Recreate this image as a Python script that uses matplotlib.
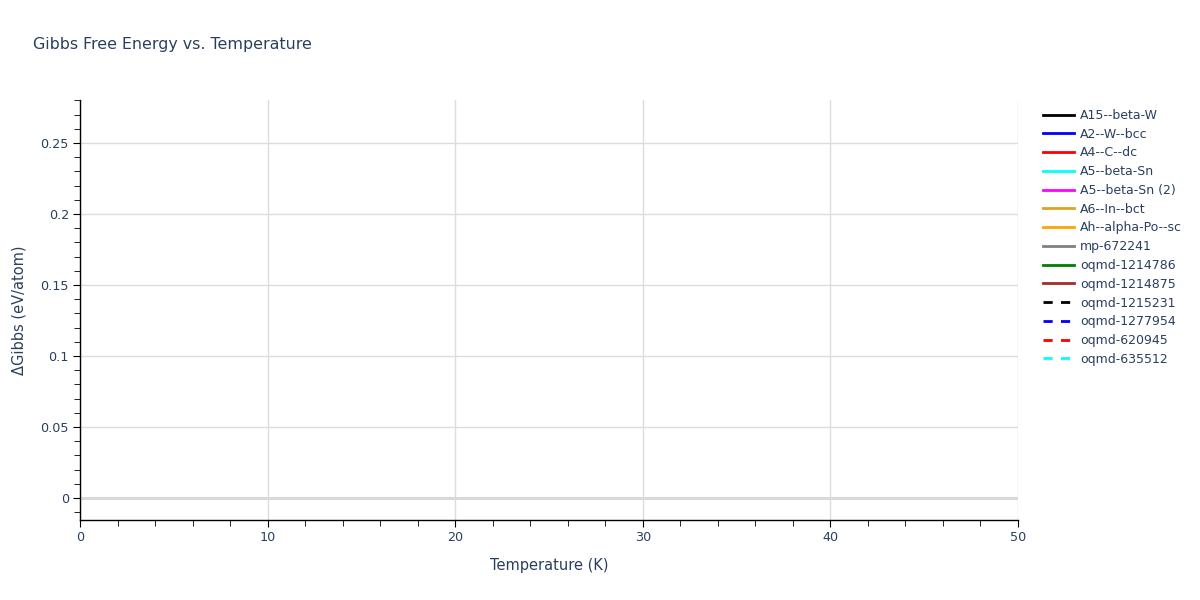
import matplotlib.pyplot as plt
from matplotlib.ticker import MultipleLocator, FuncFormatter

# -----------------------------------------------------------------------------
#         Data (no points fall inside the visible window)
# -----------------------------------------------------------------------------
names = ['A15--beta-W', 'A2--W--bcc', 'A4--C--dc', 'A5--beta-Sn',
         'A5--beta-Sn (2)', 'A6--In--bct', 'Ah--alpha-Po--sc', 'mp-672241',
         'oqmd-1214786', 'oqmd-1214875', 'oqmd-1215231', 'oqmd-1277954',
         'oqmd-620945', 'oqmd-635512']
colors = ['black', 'blue', 'red', 'cyan', 'magenta', 'goldenrod', 'orange',
          'gray', 'green', 'brown', 'black', 'blue', 'red', 'cyan']
dashed = [False] * 10 + [True] * 4
temps = [[] for _ in names]
gibbs = [[] for _ in names]

xlim = (0, 50)
ylim = (-0.0155, 0.2803)

text_c = '#2a3f5f'

# -----------------------------------------------------------------------------
#         Plot
# -----------------------------------------------------------------------------
fig = plt.figure(figsize=(12, 6), dpi=100)
ax = fig.add_axes([80 / 1200, 80 / 600, 938 / 1200, 420 / 600])

handles = []
for name, c, d, t, g in zip(names, colors, dashed, temps, gibbs):
    h, = ax.plot(t, g, color=c, lw=2, ls=(0, (3.3, 3.0)) if d else '-',
                 label=name)
    handles.append(h)

ax.set_xlim(*xlim)
ax.set_ylim(*ylim)
ax.axhline(0, color='#cfcfcf', lw=2, zorder=1)

ax.xaxis.set_major_locator(MultipleLocator(10))
ax.xaxis.set_minor_locator(MultipleLocator(2))
ax.yaxis.set_major_locator(MultipleLocator(0.05))
ax.yaxis.set_minor_locator(MultipleLocator(0.01))
ax.yaxis.set_major_formatter(FuncFormatter(
    lambda v, p: f"{v:.2f}".rstrip('0').rstrip('.') if abs(v) > 1e-9 else '0'))

ax.grid(True, which='major', color='#dcdcdc', lw=1, zorder=0)
for s in ['top', 'right']:
    ax.spines[s].set_visible(False)
for s in ['left', 'bottom']:
    ax.spines[s].set_color('black')
    ax.spines[s].set_linewidth(1)

ax.tick_params(which='both', direction='out', colors='black', labelcolor=text_c,
               labelsize=9.2)
ax.tick_params(which='major', length=5)
ax.tick_params(which='minor', length=4)
ax.tick_params(axis='x', which='major', pad=3)
ax.tick_params(axis='y', which='major', pad=3)

ax.set_xlabel('Temperature (K)', fontsize=10.5, color=text_c, labelpad=10)
ax.set_ylabel('ΔGibbs (eV/atom)', fontsize=10.5, color=text_c, labelpad=10)

fig.text(33 / 1200, 1 - 45 / 600, 'Gibbs Free Energy vs. Temperature',
         fontsize=11.4, color=text_c, va='center')

leg = fig.legend(handles=handles, loc='upper left',
                 bbox_to_anchor=(1038 / 1200, 1 - 104 / 600),
                 frameon=False, fontsize=9.0, handlelength=2.5,
                 handletextpad=0.45, labelspacing=0.46, borderaxespad=0)
for t in leg.get_texts():
    t.set_color(text_c)

fig.savefig('out.png', dpi=100)
